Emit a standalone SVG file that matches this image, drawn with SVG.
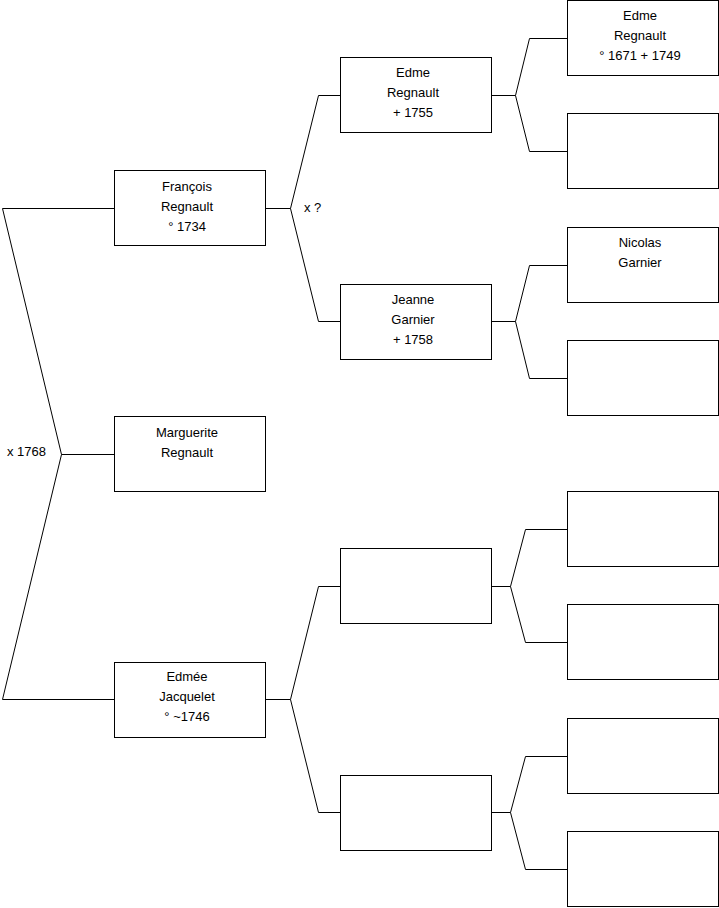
<svg xmlns="http://www.w3.org/2000/svg" width="719" height="908" viewBox="0 0 719 908">
<style>
.box{fill:#fff;stroke:#000;stroke-width:1}
.c{fill:none;stroke:#000;stroke-width:1}
text{font-family:"Liberation Sans",Arial,sans-serif;font-size:13px;fill:#000}
.m{text-anchor:middle}
</style>
<rect width="719" height="908" fill="#fff"/>
<g id="connectors">
<polyline class="c" points="114,208.5 2.5,208.5 61.5,454.5 2.5,699.5 114,699.5"/>
<line class="c" x1="61.5" y1="454.5" x2="114" y2="454.5"/>
<polyline class="c" points="340,95.5 318.5,95.5 290.5,208.5 318.5,321.5 340,321.5"/>
<line class="c" x1="265" y1="208.5" x2="290.5" y2="208.5"/>
<polyline class="c" points="340,586.5 318.5,586.5 290.5,699.5 318.5,812.5 340,812.5"/>
<line class="c" x1="265" y1="699.5" x2="290.5" y2="699.5"/>
<polyline class="c" points="567,38.5 529.5,38.5 515.5,95.5 529.5,151.5 567,151.5"/>
<line class="c" x1="491" y1="95.5" x2="515.5" y2="95.5"/>
<polyline class="c" points="567,265.5 529.5,265.5 515.5,321.5 529.5,378.5 567,378.5"/>
<line class="c" x1="491" y1="321.5" x2="515.5" y2="321.5"/>
<polyline class="c" points="567,529.5 525.5,529.5 510.5,586.5 525.5,642.5 567,642.5"/>
<line class="c" x1="491" y1="586.5" x2="510.5" y2="586.5"/>
<polyline class="c" points="567,756.5 525.5,756.5 510.5,812.5 525.5,869.5 567,869.5"/>
<line class="c" x1="491" y1="812.5" x2="510.5" y2="812.5"/>
<text x="304" y="212">x ?</text>
<text x="7" y="456">x 1768</text>
</g>
<g id="francois">
<rect class="box" x="114.5" y="170.5" width="151" height="75"/>
<text class="m" x="187" y="191">François</text>
<text class="m" x="187" y="211">Regnault</text>
<text class="m" x="187" y="231">° 1734</text>
</g>
<g id="marguerite">
<rect class="box" x="114.5" y="416.5" width="151" height="75"/>
<text class="m" x="187" y="437">Marguerite</text>
<text class="m" x="187" y="457">Regnault</text>
</g>
<g id="edmee">
<rect class="box" x="114.5" y="662.5" width="151" height="75"/>
<text class="m" x="187" y="681">Edmée</text>
<text class="m" x="187" y="701">Jacquelet</text>
<text class="m" x="187" y="721">° ~1746</text>
</g>
<g id="edme">
<rect class="box" x="340.5" y="57.5" width="151" height="75"/>
<text class="m" x="413" y="77">Edme</text>
<text class="m" x="413" y="97">Regnault</text>
<text class="m" x="413" y="117">+ 1755</text>
</g>
<g id="jeanne">
<rect class="box" x="340.5" y="284.5" width="151" height="75"/>
<text class="m" x="413" y="304">Jeanne</text>
<text class="m" x="413" y="324">Garnier</text>
<text class="m" x="413" y="344">+ 1758</text>
</g>
<g id="p3">
<rect class="box" x="340.5" y="548.5" width="151" height="75"/>
</g>
<g id="p4">
<rect class="box" x="340.5" y="775.5" width="151" height="75"/>
</g>
<g id="edme2">
<rect class="box" x="567.5" y="0.5" width="151" height="75"/>
<text class="m" x="640" y="20">Edme</text>
<text class="m" x="640" y="40">Regnault</text>
<text class="m" x="640" y="60">° 1671 + 1749</text>
</g>
<g id="g2"><rect class="box" x="567.5" y="113.5" width="151" height="75"/></g>
<g id="nicolas">
<rect class="box" x="567.5" y="227.5" width="151" height="75"/>
<text class="m" x="640" y="247">Nicolas</text>
<text class="m" x="640" y="267">Garnier</text>
</g>
<g id="g4"><rect class="box" x="567.5" y="340.5" width="151" height="75"/></g>
<g id="g5"><rect class="box" x="567.5" y="491.5" width="151" height="75"/></g>
<g id="g6"><rect class="box" x="567.5" y="604.5" width="151" height="75"/></g>
<g id="g7"><rect class="box" x="567.5" y="718.5" width="151" height="75"/></g>
<g id="g8"><rect class="box" x="567.5" y="831.5" width="151" height="75"/></g>
</svg>
